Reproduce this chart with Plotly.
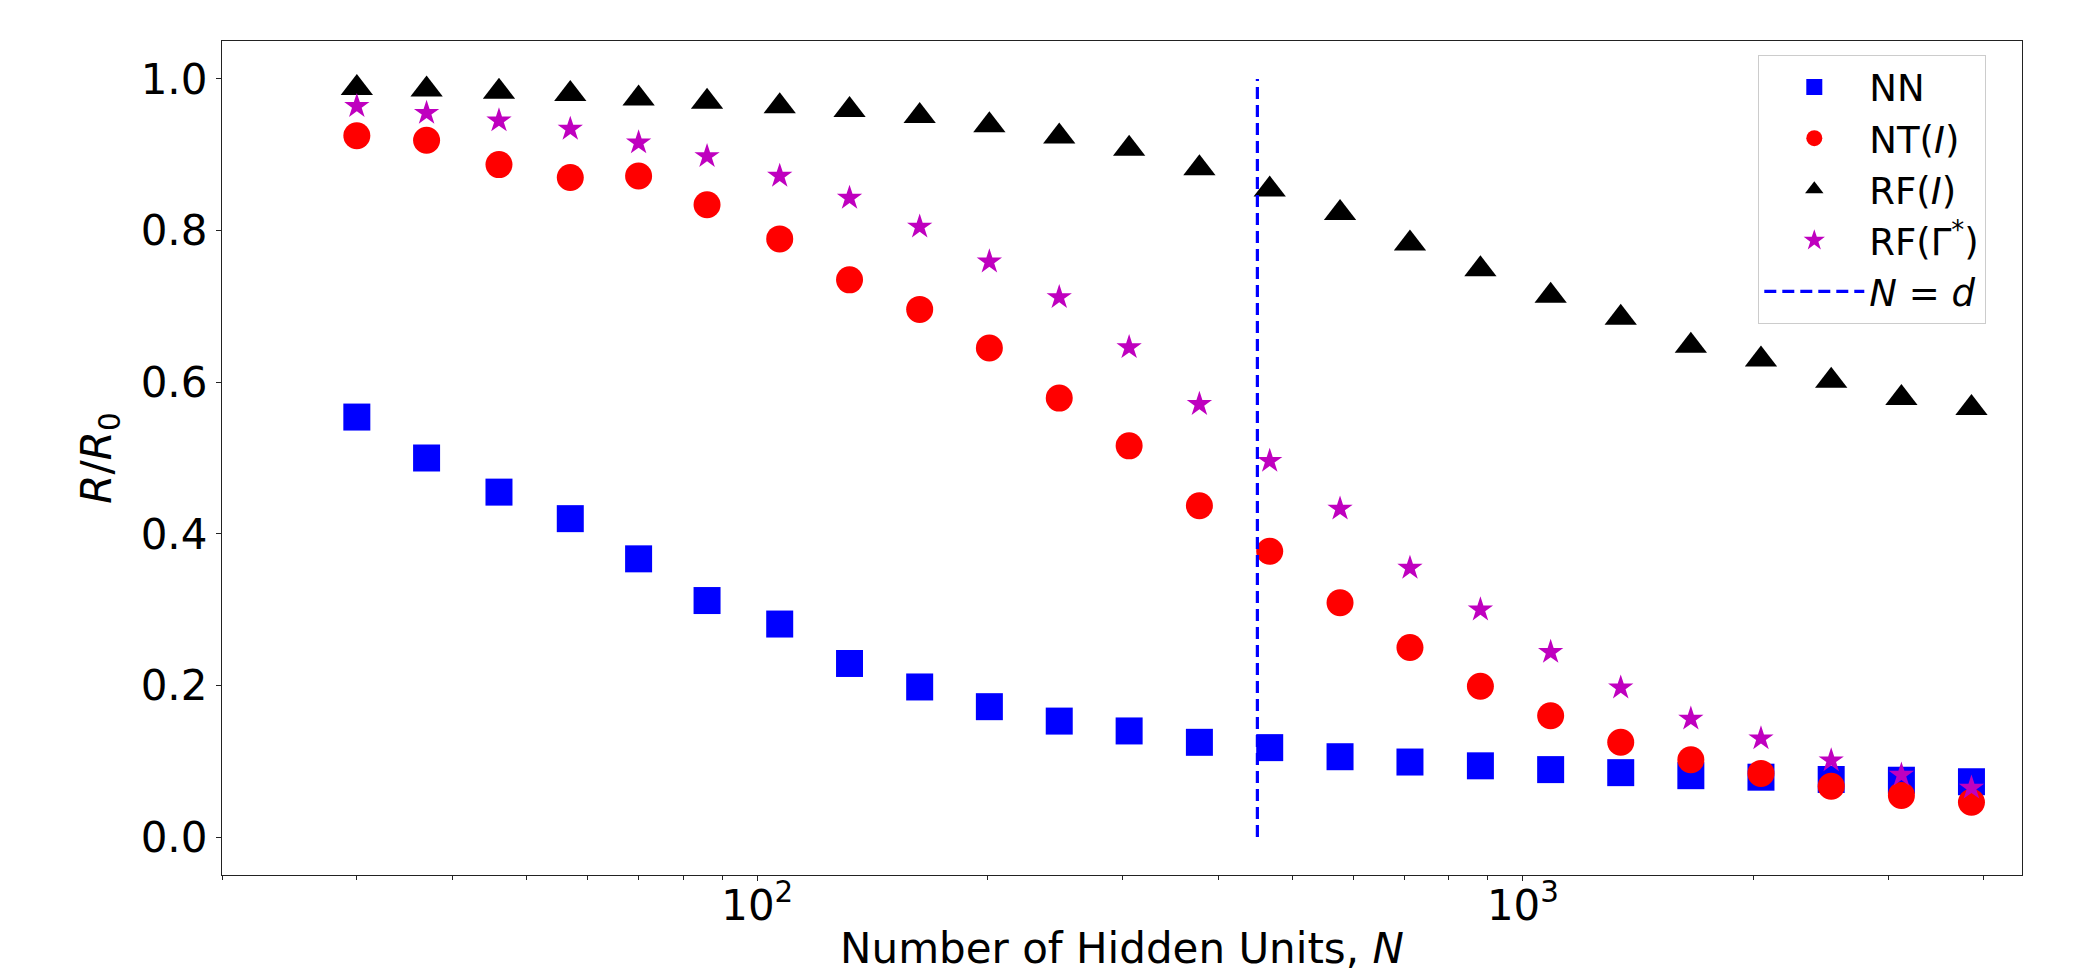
import plotly.graph_objects as go
import math

# ---- data ----
hidden_units = [30, 37, 46, 57, 70, 86, 107, 132, 163, 201, 248, 306,
                378, 467, 577, 712, 880, 1087, 1342, 1657, 2046, 2527, 3121, 3853]

nn = [0.554, 0.500, 0.455, 0.420, 0.367, 0.312, 0.281, 0.229, 0.198, 0.172, 0.153, 0.140,
      0.125, 0.118, 0.106, 0.099, 0.094, 0.089, 0.085, 0.081, 0.079, 0.076, 0.075, 0.073]

nt_i = [0.925, 0.919, 0.887, 0.870, 0.872, 0.834, 0.789, 0.735, 0.696, 0.645, 0.579, 0.516,
        0.437, 0.377, 0.309, 0.250, 0.199, 0.160, 0.125, 0.102, 0.084, 0.067, 0.055, 0.046]

rf_i = [0.988, 0.986, 0.983, 0.980, 0.974, 0.970, 0.964, 0.959, 0.951, 0.939, 0.924, 0.908,
        0.882, 0.854, 0.823, 0.783, 0.749, 0.714, 0.685, 0.648, 0.630, 0.602, 0.579, 0.566]

rf_gamma = [0.964, 0.955, 0.945, 0.934, 0.916, 0.898, 0.872, 0.843, 0.805, 0.759, 0.712, 0.646,
            0.571, 0.496, 0.433, 0.355, 0.300, 0.244, 0.197, 0.156, 0.130, 0.101, 0.082, 0.065]

d_value = 450
vline_y = [0.0, 1.0]

series_names = ["NN", "NT(<i>I</i>)", "RF(<i>I</i>)", "RF(Γ<sup>*</sup>)"]
vline_name = "<i>N</i> = <i>d</i>"
y_ticks = [0.0, 0.2, 0.4, 0.6, 0.8, 1.0]

FONT = "DejaVu Sans"

fig = go.Figure()

styles = [
    (nn, "square", "#0000ff", 27),
    (nt_i, "circle", "#ff0000", 27),
    (rf_i, "triangle-up", "#000000", 28),
    (rf_gamma, "star", "#bf00bf", 19),
]
for k, (vals, sym, col, sz) in enumerate(styles):
    fig.add_trace(go.Scatter(
        x=hidden_units, y=vals, mode="markers", name=series_names[k],
        legendgroup=f"g{k}",
        marker=dict(symbol=sym, color=col, size=sz, line=dict(width=0)),
    ))

fig.add_trace(go.Scatter(
    x=[d_value, d_value], y=vline_y, mode="lines", name=vline_name,
    legendgroup="g4",
    line=dict(color="#0000ff", width=3.2, dash="12px,6px"),
))

axis_common = dict(
    showline=True, mirror=True, linecolor="#222222", linewidth=1.3,
    ticks="outside", ticklen=5, tickwidth=1.3, tickcolor="#222222",
    showgrid=False, zeroline=False,
)

fig.update_layout(
    width=2074, height=971,
    margin=dict(l=214, r=60, t=33, b=104),
    paper_bgcolor="white", plot_bgcolor="white",
    font=dict(family=FONT, color="black", size=42),
    xaxis=dict(
        type="log", range=[math.log10(20), 3.6518], dtick=1,
        exponentformat="power",
        tickfont=dict(size=33.5, family=FONT),
        ticklabelstandoff=-10,
        automargin=True,
        title=dict(text="Number of Hidden Units, <i>N</i>", font=dict(size=42, family=FONT), standoff=4),
        minor=dict(ticks="outside", ticklen=3.5, tickwidth=1, tickcolor="#222222", dtick="D1", showgrid=False),
        **axis_common,
    ),
    yaxis=dict(
        range=[-0.05, 1.05], tickvals=y_ticks, tickformat=".1f",
        tickfont=dict(size=42, family=FONT),
        automargin=False,
        title=dict(text="<i>R</i>/<i>R</i><sub>0</sub>", font=dict(size=42, family=FONT)),
        **axis_common,
    ),
    legend=dict(
        x=0.98, y=0.983, xanchor="right", yanchor="top",
        bgcolor="rgba(255,255,255,0.8)", bordercolor="#cccccc", borderwidth=1.3,
        font=dict(size=37, family=FONT), itemwidth=100, tracegroupgap=0,
        itemsizing="trace",
    ),
    showlegend=True,
)

fig.write_html("out.html")
